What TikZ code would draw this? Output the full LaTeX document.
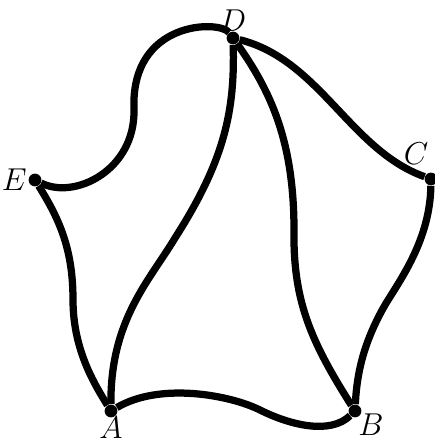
\documentclass[tikz,border=0pt]{standalone}
\usepackage{amsmath,amssymb}
\usepackage{xcolor}
\usepackage{tikz}
\usetikzlibrary{positioning}
\tikzset{
  vtx/.style      = {circle, fill=black, inner sep=0pt, minimum size=5.8pt},
  bigedge/.style  = {line width=3.3pt, black},
  every label/.style = {inner sep=0.5pt, font=\Large}
}

\begin{document}
\begin{tikzpicture}[x=0.016cm, y=-0.016cm]
  \useasboundingbox (0,0) rectangle (435,438);
  % ---- vertices ----
  \node[vtx, label={[label distance=-1pt]90:$D$}]    (D) at (233, 38) {};
  \node[vtx, label={[label distance=3pt]95:$C$}]     (C) at (431,179) {};
  \node[vtx, label={[label distance=0pt]180:$E$}]    (E) at ( 35,180) {};
  \node[vtx, label={[label distance=-1pt]-90:$A$}]   (A) at (111,411) {};
  \node[vtx, label={[label distance=-2pt]-40:$B$}]   (B) at (355,411) {};
  % ---- outer cycle ----
  \draw[bigedge] (E) .. controls (75,200) and (135,170) .. (134,110)
                     .. controls (130,20) and (220,20) .. (D);
  \draw[bigedge] (D) .. controls (320,60) and (350,150) .. (C);
  \draw[bigedge] (C) .. controls (430,240) and (400,280) .. (385,305)
                     .. controls (365,340) and (357,370) .. (B);
  \draw[bigedge] (A) .. controls (160,382) and (230,395) .. (260,410)
                     .. controls (290,425) and (330,435) .. (B);
  \draw[bigedge] (E) .. controls (60,220) and (73,250) .. (73,300)
                     .. controls (73,350) and (95,385) .. (A);
  % ---- chords to D ----
  \draw[bigedge] (A) .. controls (110,320) and (150,280) .. (175,238)
                     .. controls (225,160) and (235,110) .. (D);
  \draw[bigedge] (B) .. controls (310,340) and (293,300) .. (294,230)
                     .. controls (294,140) and (270,90) .. (D);
\end{tikzpicture}
\end{document}
